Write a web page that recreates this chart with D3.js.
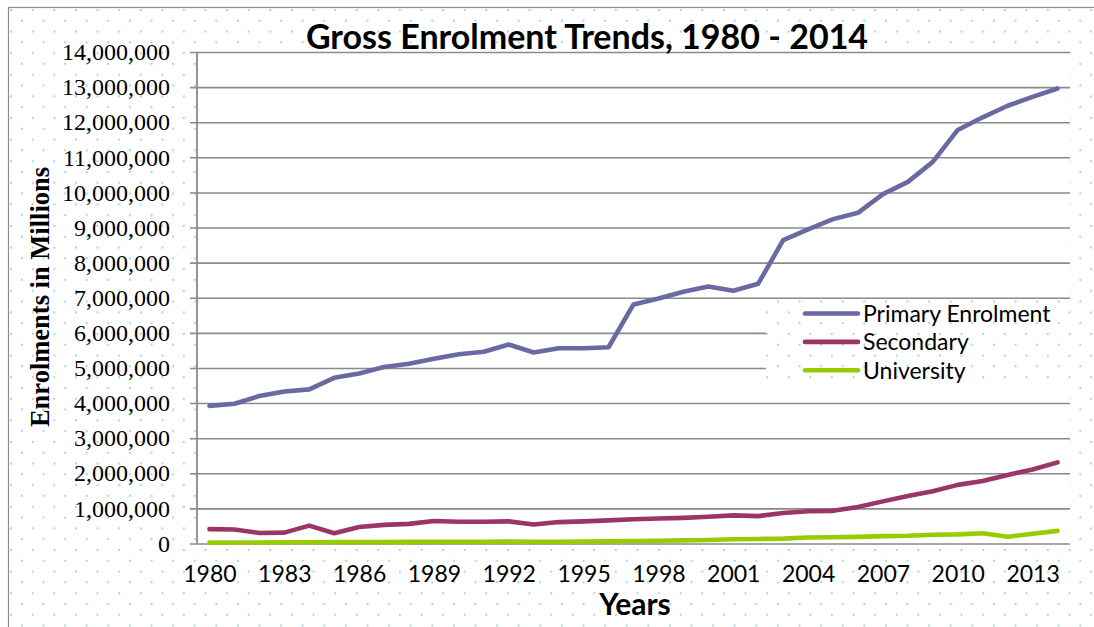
<!DOCTYPE html>
<html>
<head>
<meta charset="utf-8">
<script src="https://cdn.jsdelivr.net/npm/d3@7"></script>
<style>
  html, body { margin: 0; padding: 0; background: #ffffff; }
  svg { display: block; }
</style>
</head>
<body>
<svg id="chart" width="1094" height="627"></svg>
<script>
// Gross enrolment by level, 1980–2014
const years = d3.range(1980, 2015);

const primaryEnrolment = [
  3920000, 3980000, 4200000, 4330000, 4390000, 4720000, 4840000, 5030000, 5120000, 5260000,
  5390000, 5460000, 5670000, 5440000, 5560000, 5560000, 5590000, 6810000, 6980000, 7170000,
  7320000, 7200000, 7400000, 8640000, 8950000, 9240000, 9420000, 9950000, 10300000, 10870000,
  11780000, 12140000, 12470000, 12720000, 12960000
];

const secondaryEnrolment = [
  410000, 400000, 300000, 310000, 510000, 290000, 470000, 530000, 560000, 640000,
  620000, 620000, 630000, 540000, 610000, 630000, 660000, 690000, 710000, 730000,
  760000, 800000, 780000, 870000, 920000, 930000, 1040000, 1200000, 1350000, 1490000,
  1670000, 1780000, 1950000, 2110000, 2310000
];

const universityEnrolment = [
  30000, 30000, 30000, 35000, 35000, 40000, 40000, 40000, 45000, 50000,
  50000, 50000, 55000, 50000, 50000, 55000, 60000, 70000, 80000, 90000,
  100000, 120000, 130000, 140000, 170000, 180000, 190000, 210000, 220000, 250000,
  260000, 290000, 190000, 280000, 360000
];

const seriesNames = ["Primary Enrolment", "Secondary", "University"];
const seriesColors = ["#6a6aa2", "#9b3566", "#99cc00"];
const yTicks = d3.range(0, 14000001, 1000000);
const xTickYears = years.filter((y, i) => i % 3 === 0);

const titleText = "Gross Enrolment Trends, 1980 - 2014";
const xTitle = "Years";
const yTitle = "Enrolments in Millions";

const series = seriesNames.map((name, i) => ({
  name,
  color: seriesColors[i],
  values: [primaryEnrolment, secondaryEnrolment, universityEnrolment][i]
}));

const svg = d3.select("#chart");
const W = 1094, H = 627;
const plot = { left: 197, right: 1070, top: 52, bottom: 543.5 };

// dotted chart-area fill
const defs = svg.append("defs");
const pat = defs.append("pattern")
  .attr("id", "dots")
  .attr("patternUnits", "userSpaceOnUse")
  .attr("x", 10.2).attr("y", 9)
  .attr("width", 21.6).attr("height", 21.6);
pat.append("rect").attr("width", 21.6).attr("height", 21.6).attr("fill", "#ffffff");
pat.append("circle").attr("cx", 0.9).attr("cy", 0.9).attr("r", 1.1).attr("fill", "#9fd2e2");
pat.append("circle").attr("cx", 11.7).attr("cy", 11.7).attr("r", 1.1).attr("fill", "#9fd2e2");

svg.append("rect").attr("x", 0).attr("y", 0).attr("width", W).attr("height", H).attr("fill", "#ffffff");
svg.append("rect")
  .attr("x", 8.5).attr("y", 7.5).attr("width", W).attr("height", H)
  .attr("fill", "url(#dots)")
  .attr("stroke", "#8c8c8c").attr("stroke-width", 1.2);

// plot area
svg.append("rect")
  .attr("x", plot.left).attr("y", plot.top)
  .attr("width", plot.right - plot.left).attr("height", plot.bottom - plot.top)
  .attr("fill", "#ffffff");

const x = d3.scalePoint().domain(years).range([plot.left, plot.right]).padding(0.5);
const y = d3.scaleLinear().domain([0, 14000000]).range([plot.bottom, plot.top]);

// horizontal gridlines with short outer ticks
const yAxis = d3.axisLeft(y)
  .tickValues(yTicks)
  .tickSize(plot.right - plot.left + 7)
  .tickPadding(20)
  .tickFormat(d3.format(","));
const gy = svg.append("g")
  .attr("transform", `translate(${plot.right},0)`)
  .call(yAxis);
gy.select(".domain").remove();
gy.selectAll(".tick line").attr("stroke", "#8a8a8a").attr("stroke-width", 1.6);
gy.selectAll(".tick text")
  .attr("font-family", "'Liberation Serif', 'Times New Roman', serif")
  .attr("font-size", 24)
  .attr("fill", "#000");

// vertical axis line
svg.append("line")
  .attr("x1", plot.left).attr("x2", plot.left)
  .attr("y1", plot.top).attr("y2", plot.bottom)
  .attr("stroke", "#8a8a8a").attr("stroke-width", 1.8);

// category labels
const xAxis = d3.axisBottom(x).tickValues(xTickYears).tickSize(0).tickPadding(22);
const gx = svg.append("g").attr("transform", `translate(0,${plot.bottom})`).call(xAxis);
gx.select(".domain").remove();
gx.selectAll(".tick text")
  .attr("font-family", "Lato, 'Open Sans', sans-serif")
  .attr("font-size", 23)
  .attr("fill", "#000");

// series lines
const line = d3.line()
  .x((d, i) => x(years[i]))
  .y(d => y(d));

svg.append("g").selectAll("path")
  .data(series)
  .join("path")
  .attr("d", s => line(s.values))
  .attr("fill", "none")
  .attr("stroke", s => s.color)
  .attr("stroke-width", 4.6)
  .attr("stroke-linejoin", "round")
  .attr("stroke-linecap", "round");

// legend
const lg = svg.append("g");
lg.append("rect")
  .attr("x", 766).attr("y", 299.5).attr("width", 306).attr("height", 86)
  .attr("fill", "url(#dots)");
const rows = lg.selectAll("g.item")
  .data(series)
  .join("g")
  .attr("class", "item")
  .attr("transform", (d, i) => `translate(0,${313.5 + i * 28.4})`);
rows.append("line")
  .attr("x1", 805).attr("x2", 858)
  .attr("y1", 0).attr("y2", 0)
  .attr("stroke", d => d.color)
  .attr("stroke-width", 4.6)
  .attr("stroke-linecap", "round");
rows.append("text")
  .attr("x", 863).attr("y", 0).attr("dy", "0.36em")
  .attr("font-family", "Lato, 'Open Sans', sans-serif")
  .attr("font-size", 23)
  .attr("fill", "#000")
  .text(d => d.name);

// titles
svg.append("text")
  .attr("x", 587).attr("y", 49)
  .attr("text-anchor", "middle")
  .attr("font-family", "Lato, 'Open Sans', sans-serif")
  .attr("font-weight", 700)
  .attr("font-size", 34)
  .attr("fill", "#000")
  .text(titleText);

svg.append("text")
  .attr("x", 635).attr("y", 615)
  .attr("text-anchor", "middle")
  .attr("font-family", "Lato, 'Open Sans', sans-serif")
  .attr("font-weight", 700)
  .attr("font-size", 30)
  .attr("fill", "#000")
  .text(xTitle);

svg.append("text")
  .attr("transform", "translate(49,297) rotate(-90)")
  .attr("text-anchor", "middle")
  .attr("font-family", "'Liberation Serif', 'Times New Roman', serif")
  .attr("font-weight", 700)
  .attr("font-size", 26.5)
  .attr("fill", "#000")
  .text(yTitle);
</script>
</body>
</html>
